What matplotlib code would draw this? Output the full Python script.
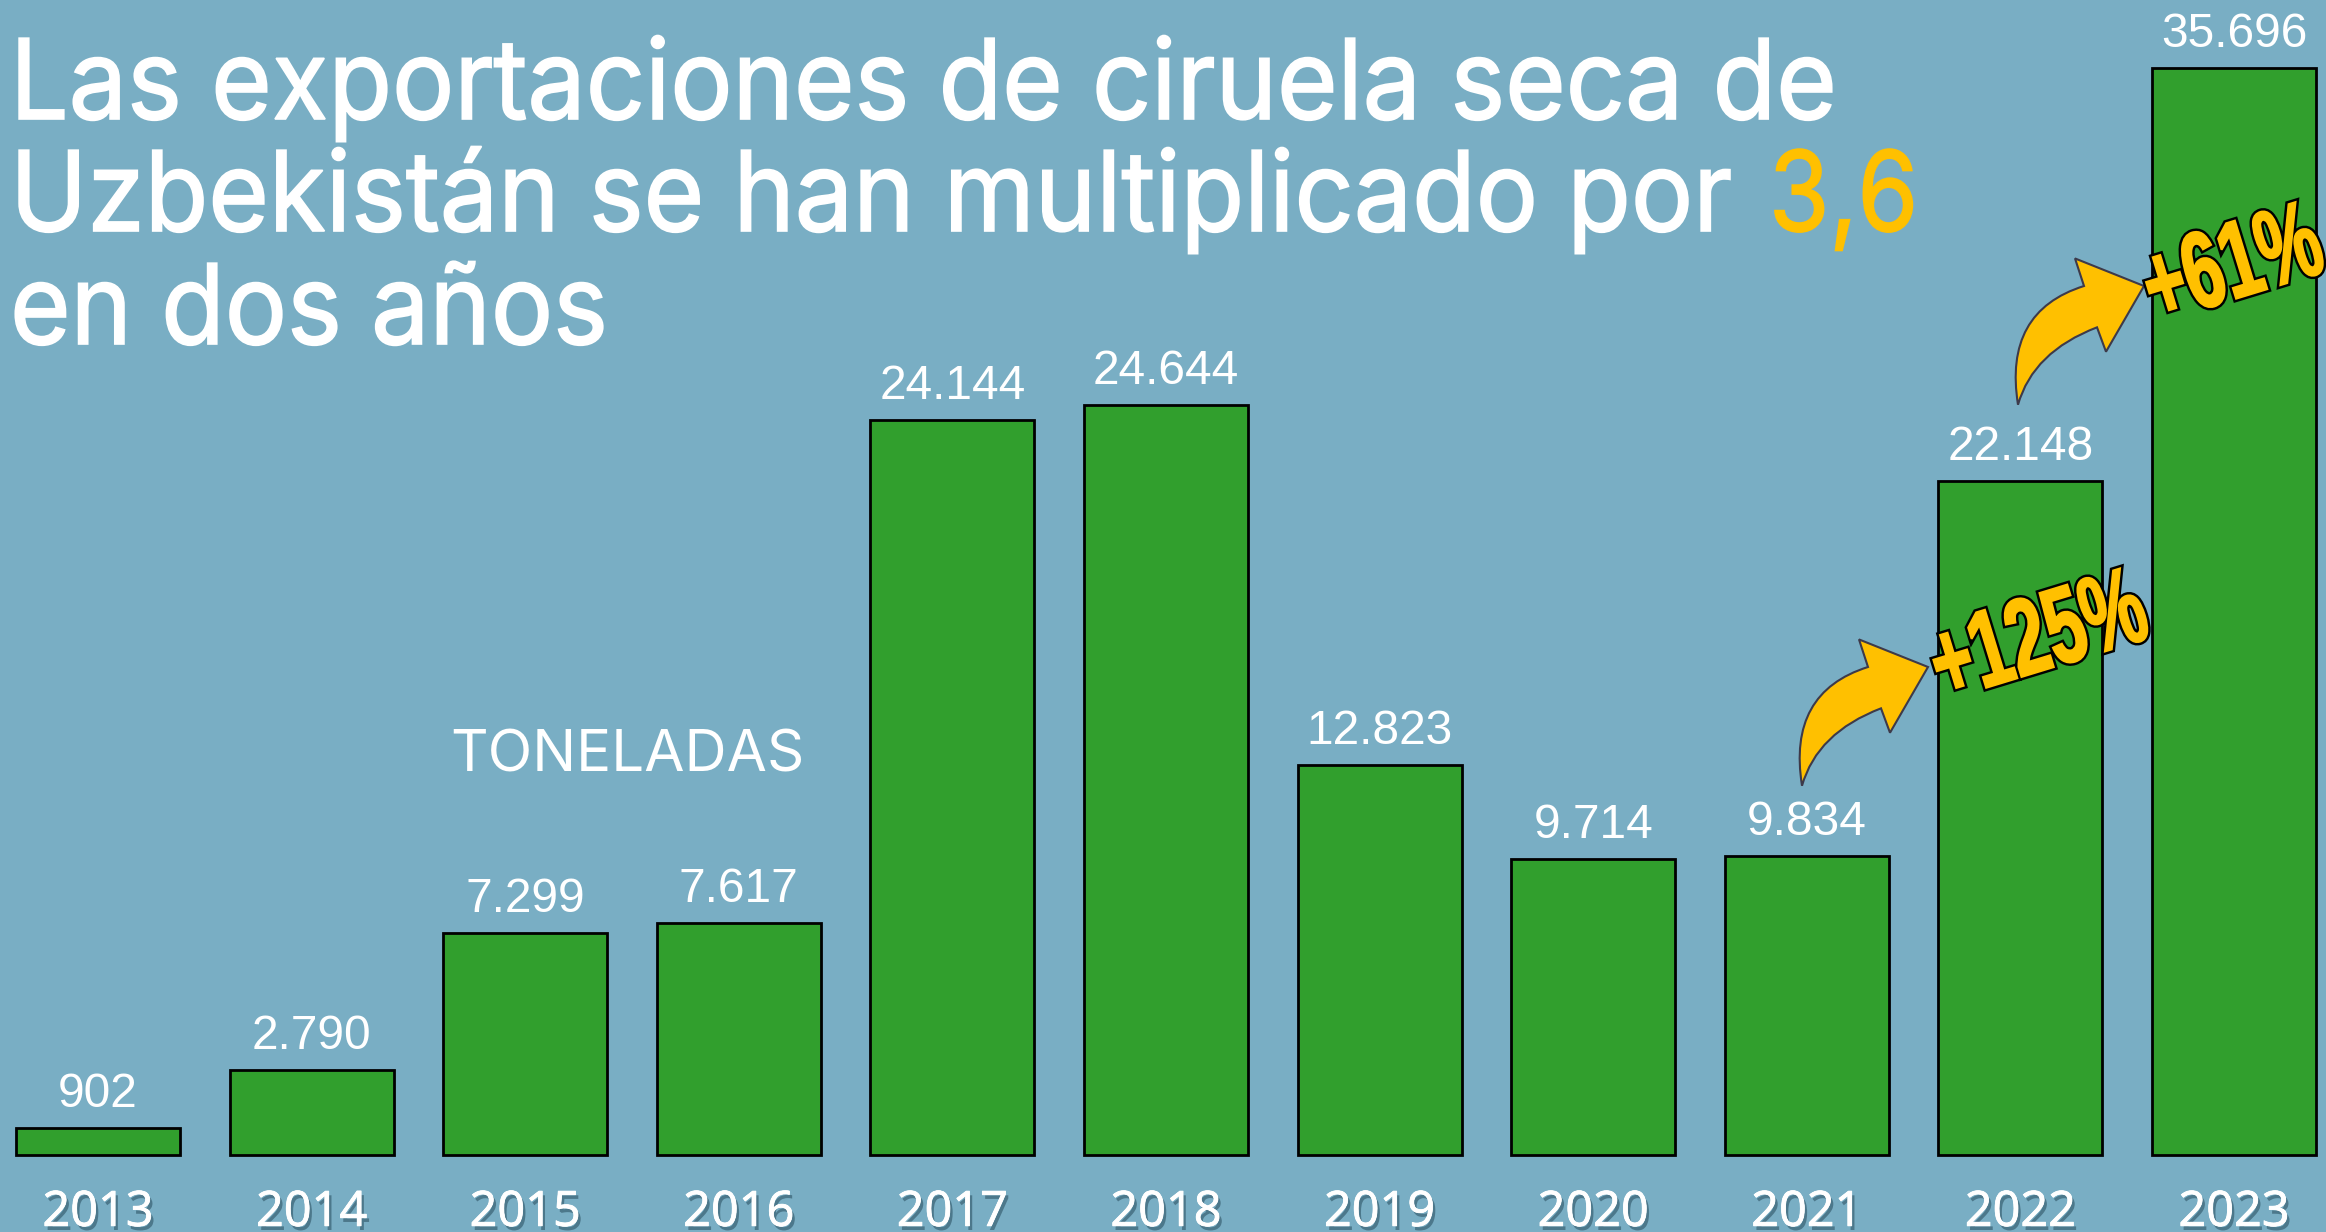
import matplotlib
matplotlib.use('Agg')
import matplotlib.pyplot as plt
import matplotlib.patheffects as pe
from matplotlib.path import Path
from matplotlib.patches import PathPatch
from matplotlib.transforms import Affine2D

years = [2013, 2014, 2015, 2016, 2017, 2018, 2019, 2020, 2021, 2022, 2023]
tons = [902, 2790, 7299, 7617, 24144, 24644, 12823, 9714, 9834, 22148, 35696]
title_lines = ['Las exportaciones de ciruela seca de', 'Uzbekistán se han multiplicado por', 'en dos años']
title_value = '3,6'
unit_label = 'TONELADAS'
growth_labels = ['+125%', '+61%']

BG = '#79AEC4'
GREEN = '#319F2D'
GOLD = '#FFC000'
W, H = 2326, 1232


class Squeezed(pe.AbstractPathEffect):
    # squeeze the glyphs along the rotated baseline, real text stays real text
    def __init__(self, center, angle, sx, sy, strokes=()):
        super().__init__()
        self.center, self.angle, self.sx, self.sy = center, angle, sx, sy
        self.strokes = strokes

    def draw_path(self, renderer, gc, tpath, affine, rgbFace=None):
        cx, cy = self.center
        tr = affine + (Affine2D().translate(-cx, -cy).rotate_deg(-self.angle)
                       .scale(self.sx, self.sy).rotate_deg(self.angle).translate(cx, cy))
        for color, width in self.strokes:
            gc0 = renderer.new_gc()
            gc0.copy_properties(gc)
            gc0.set_linewidth(width)
            gc0.set_foreground(color)
            gc0.set_joinstyle('miter')
            renderer.draw_path(gc0, tpath, tr, rgbFace)
            gc0.restore()
        renderer.draw_path(gc, tpath, tr, rgbFace)


fig = plt.figure(figsize=(W / 100, H / 100), dpi=100, facecolor=BG)
ax = fig.add_axes([0, 0, 1, 1], facecolor=BG)

# scale: bar pitch 213.6 px, baseline at y=1155
pitch = 213.6
per_unit = 0.03045
ax.set_xlim(-98 / pitch, (W - 98) / pitch)
ax.set_ylim(-(H - 1155) / per_unit, 1155 / per_unit)
ax.axis('off')

ax.bar(range(len(years)), tons, width=164 / pitch, color=GREEN, edgecolor='black', linewidth=2)

for i, v in enumerate(tons):
    ax.annotate(f'{v:,}'.replace(',', '.'), (i, v), xytext=(0, 15), textcoords='offset points',
                ha='center', va='baseline', color='white', fontsize=34.5, family='Liberation Sans')
    ax.annotate(str(years[i]), (i, 0), xytext=(0, -51), textcoords='offset points',
                ha='center', va='baseline', color='white', fontsize=35, family='Open Sans',
                path_effects=[pe.withSimplePatchShadow(offset=(2, -3), shadow_rgbFace='#2f5566', alpha=0.6),
                              pe.withStroke(linewidth=0.6, foreground='white')])


def px(x, y):
    return x / W, 1 - y / H


# title
base_y = [119, 231, 344]
title_x = 10
for line, y in zip(title_lines, base_y):
    fig.text(*px(title_x, y), line, color='white', fontsize=80, family='Inter', va='baseline',
             path_effects=[Squeezed((title_x, H - y), 0, 0.935, 1.0, strokes=[('white', 1.2)])])
fig.text(*px(1769, base_y[1]), title_value, color=GOLD, fontsize=80, family='Inter', va='baseline',
         path_effects=[Squeezed((1769, H - base_y[1]), 0, 0.88, 1.0, strokes=[(GOLD, 1.2)])])

fig.text(*px(627, 757), unit_label, color='white', fontsize=42, family='Inter', ha='center', va='center')

# curved arrows, offsets in px from the tip, y measured downward
arrow_verts = [(0, 0), (-69, -26), (-60, 0), (-141, 24), (-126, 112), (-111, 62), (-47, 39), (-38, 62), (0, 0)]
arrow_codes = [Path.MOVETO, Path.LINETO, Path.LINETO, Path.CURVE3, Path.CURVE3, Path.CURVE3, Path.CURVE3,
               Path.LINETO, Path.CLOSEPOLY]
arrow = Path(arrow_verts, arrow_codes)
for tip in [(1928, 667), (2144, 286)]:
    flip = Affine2D().scale(1, -1.06).translate(tip[0], H - tip[1])
    ax.add_patch(PathPatch(arrow, transform=flip, facecolor=GOLD, edgecolor='#3d3a4a',
                           linewidth=1.5, zorder=4))

# growth labels
for text, pos in zip(growth_labels, [(2040, 642), (2234, 270)]):
    x, y = px(*pos)
    fig.text(x, y, text, color=GOLD, fontsize=70, weight='bold', rotation=17,
             rotation_mode='anchor', ha='center', va='center', zorder=6,
             family='Liberation Sans',
             path_effects=[Squeezed((pos[0], H - pos[1]), 17, 0.72, 1.12,
                                    strokes=[('black', 5), (GOLD, 1.5)])])

fig.savefig('out.png', dpi=100, facecolor=BG)
